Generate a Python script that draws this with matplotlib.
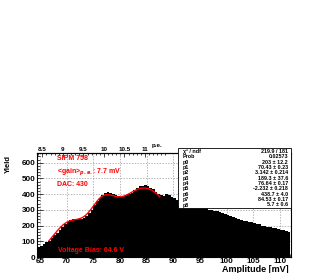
import numpy as np
import matplotlib
matplotlib.use('Agg')
import matplotlib.pyplot as plt
from matplotlib.patches import Rectangle

plt.rcParams['font.family'] = ['Liberation Sans', 'DejaVu Sans']
plt.rcParams['font.weight'] = 'bold'

# histogram: 0.5 mV bins starting at 64.5 mV
bin_start = 64.5
bin_width = 0.5
counts = [65, 72, 80, 95, 105, 118, 140, 150, 175, 190,
          210, 225, 238, 245, 236, 240, 245, 250, 258, 280,
          300, 330, 355, 375, 395, 410, 415, 405, 400, 392,
          388, 385, 390, 395, 400, 410, 425, 440, 450, 455,
          460, 452, 440, 430, 415, 400, 395, 390, 398, 392,
          385, 375, 365, 360, 355, 350, 345, 340, 340, 335,
          330, 325, 318, 310, 300, 298, 295, 290, 285, 278,
          272, 268, 262, 255, 250, 245, 238, 232, 228, 225,
          220, 215, 212, 208, 200, 195, 192, 188, 185, 182,
          178, 175, 170, 165, 160]

# fit result (sum of three gaussians)
fit_range = (66.7, 87.5)
amps = [203.0, 189.3, 438.7]
means = [70.43, 76.64, 84.53]
sigmas = [3.142, -2.232, 5.7]
gain = 7.7

stat_names = ['\u03c7\u00b2 / ndf', 'Prob', 'p0', 'p1', 'p2', 'p3', 'p4', 'p5', 'p6', 'p7', 'p8']
stat_vals = ['219.9 / 181', '0.02573', '203 \u00b1 12.2', '70.43 \u00b1 0.23',
             '3.142 \u00b1 0.214', '189.3 \u00b1 37.6', '76.64 \u00b1 0.17',
             '-2.232 \u00b1 0.218', '438.7 \u00b1 4.0', '84.53 \u00b1 0.17', '5.7 \u00b1 0.6']

bottom_ticks = [65, 70, 75, 80, 85, 90, 95, 100, 105, 110]
left_ticks = [0, 100, 200, 300, 400, 500, 600]
pe_ticks = [8.5, 9, 9.5, 10, 10.5, 11]

W, H = 327, 273
fig = plt.figure(figsize=(W / 100, H / 100), dpi=100)
fig.patch.set_facecolor('white')
ax = fig.add_axes([37 / W, 1 - 257 / H, 254 / W, 104 / H])

edges = bin_start + bin_width * np.arange(len(counts) + 1)
ax.stairs(counts, edges, fill=True, color='black', zorder=2)

xf = np.linspace(fit_range[0], fit_range[1], 300)
yf = np.zeros_like(xf)
for a, m, s in zip(amps, means, sigmas):
    yf += a * np.exp(-0.5 * ((xf - m) / s) ** 2)
ax.plot(xf, yf, color='#ff0000', lw=1.0, zorder=3)

ax.set_xlim(64.44, 112.1)
ax.set_ylim(0, 662)
ax.set_xticks(bottom_ticks)
ax.set_yticks(left_ticks)
ax.set_xticks(np.arange(65, 113, 1), minor=True)
ax.set_yticks(np.arange(0, 662, 20), minor=True)
ax.grid(True, which='major', color='#999999', linestyle=(0, (2, 2)), lw=0.5, zorder=1)
ax.set_axisbelow(True)
ax.tick_params(which='both', direction='in', labelsize=5.8, width=0.5)
ax.tick_params(which='major', length=4, pad=1.2)
ax.tick_params(axis='x', which='major', pad=0.6)
ax.tick_params(which='minor', length=2)
ax.tick_params(axis='y', which='both', right=False)
for sp in ax.spines.values():
    sp.set_linewidth(0.8)

fig.text(8.5 / W, 1 - 155 / H, 'Yield', fontsize=5.5, rotation=90, ha='center', va='top')
fig.text(289 / W, 1 - 271.5 / H, 'Amplitude [mV]', fontsize=6.5, ha='right', va='baseline')

top = ax.secondary_xaxis('top', functions=(lambda x: x / gain, lambda p: p * gain))
top.set_xticks(pe_ticks)
top.set_xticks(np.arange(8.4, 11.6, 0.1), minor=True)
top.tick_params(which='both', direction='in', labelsize=4.5, pad=0.5, width=0.5)
top.tick_params(which='major', length=3)
top.tick_params(which='minor', length=1.5)
top.spines['top'].set_linewidth(0.8)
top.set_xticklabels(['8.5', '9', '9.5', '10', '10.5', '11'])
fig.text(152 / W, 1 - 146 / H, 'p.e.', fontsize=4.5, va='center', ha='left')

red = '#ff0000'
fig.text(57 / W, 1 - 159 / H, 'SIPM 758', color=red, fontsize=5, va='center')
fig.text(57 / W, 1 - 172 / H, '<gain>$_{p.e.}$: 7.7 mV', color=red, fontsize=5, va='center')
fig.text(57 / W, 1 - 184 / H, 'DAC: 430', color=red, fontsize=5, va='center')
fig.text(58 / W, 1 - 250 / H, 'Voltage Bias: 64.6 V', color=red, fontsize=5, va='center')

# stats box
fig.add_artist(Rectangle((178 / W, 1 - 208 / H), 113 / W, 60 / H,
                         transform=fig.transFigure, facecolor='white',
                         edgecolor='black', lw=0.6, zorder=5))
for i, (n, v) in enumerate(zip(stat_names, stat_vals)):
    yy = 1 - (151.5 + 5.35 * i) / H
    fig.text(183 / W, yy, n, fontsize=3.9, va='center', ha='left', zorder=6)
    fig.text(288 / W, yy, v, fontsize=3.9, va='center', ha='right', zorder=6)

fig.savefig('out.png', dpi=100, facecolor='white')
